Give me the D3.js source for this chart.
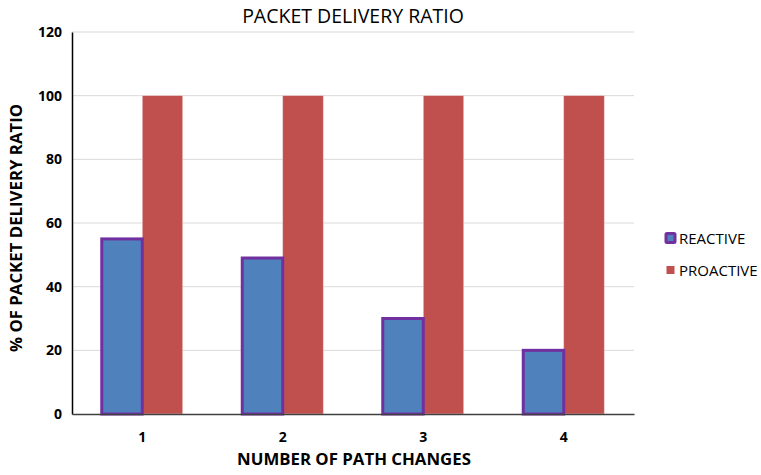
<!DOCTYPE html>
<html>
<head>
<meta charset="utf-8">
<script src="https://cdn.jsdelivr.net/npm/d3@7"></script>
<style>
  html, body { margin: 0; padding: 0; background: #fff; }
  svg { display: block; }
  text { font-family: "Open Sans", "Liberation Sans", sans-serif; }
</style>
</head>
<body>
<svg id="chart" width="761" height="475"></svg>
<script>
const categories = ["1", "2", "3", "4"];
const seriesNames = ["REACTIVE", "PROACTIVE"];
const reactive = [55, 49, 30, 20];
const proactive = [100, 100, 100, 100];
const yTicks = [0, 20, 40, 60, 80, 100, 120];

const colors = { REACTIVE: "#4F81BD", PROACTIVE: "#C0504D" };
const reactiveStroke = "#7030A0";

const svg = d3.select("#chart");
const plotLeft = 72, plotRight = 634, plotTop = 32, plotBottom = 414;

const x = d3.scaleBand().domain(categories).range([plotLeft, plotRight]).paddingInner(0.4235).paddingOuter(0.21175);
const xs = d3.scaleBand().domain(seriesNames).range([0, x.bandwidth()]);
const y = d3.scaleLinear().domain([0, 120]).range([plotBottom, plotTop]);

// gridlines
svg.append("g").selectAll("line").data(yTicks.filter(d => d > 0)).join("line")
  .attr("x1", plotLeft).attr("x2", plotRight)
  .attr("y1", d => y(d)).attr("y2", d => y(d))
  .attr("stroke", "#d9d9d9").attr("stroke-width", 1);

// y axis
const yAxis = svg.append("g").attr("transform", `translate(${plotLeft},0)`)
  .call(d3.axisLeft(y).tickValues(yTicks).tickSize(0).tickPadding(10));
yAxis.select(".domain").attr("stroke", "#000").attr("stroke-width", 1.5);
yAxis.selectAll("text").attr("font-size", 14).attr("font-weight", "bold").attr("fill", "#000");

const rows = categories.map((c, i) => ({ c, REACTIVE: reactive[i], PROACTIVE: proactive[i] }));

// proactive bars
svg.append("g").selectAll("rect").data(rows).join("rect")
  .attr("x", d => x(d.c) + xs("PROACTIVE"))
  .attr("width", xs.bandwidth())
  .attr("y", d => y(d.PROACTIVE))
  .attr("height", d => y(0) - y(d.PROACTIVE))
  .attr("fill", colors.PROACTIVE)
  .attr("stroke", "#f2d0cf").attr("stroke-width", 0.6);

// reactive bars
svg.append("g").selectAll("rect").data(rows).join("rect")
  .attr("x", d => x(d.c) + xs("REACTIVE"))
  .attr("width", xs.bandwidth())
  .attr("y", d => y(d.REACTIVE))
  .attr("height", d => y(0) - y(d.REACTIVE))
  .attr("fill", colors.REACTIVE)
  .attr("stroke", reactiveStroke).attr("stroke-width", 3);

// x axis
const xAxis = svg.append("g").attr("transform", `translate(0,${plotBottom})`)
  .call(d3.axisBottom(x).tickSize(0).tickPadding(18));
xAxis.select(".domain").attr("stroke", "#404040").attr("stroke-width", 1.5);
xAxis.selectAll("text").attr("font-size", 14).attr("font-weight", "bold").attr("fill", "#000");

// title
svg.append("text").attr("x", 353).attr("y", 23).attr("text-anchor", "middle")
  .attr("font-size", 19.5).attr("fill", "#000").text("PACKET DELIVERY RATIO");

// axis titles
svg.append("text").attr("x", 354).attr("y", 465).attr("text-anchor", "middle")
  .attr("font-size", 16.8).attr("font-weight", "bold").attr("fill", "#000").text("NUMBER OF PATH CHANGES");
svg.append("text").attr("transform", "translate(22,228) rotate(-90)").attr("text-anchor", "middle")
  .attr("font-size", 16.8).attr("font-weight", "bold").attr("fill", "#000").text("% OF PACKET DELIVERY RATIO");

// legend
const legend = svg.append("g");
const lg = legend.selectAll("g").data(seriesNames).join("g")
  .attr("transform", (d, i) => `translate(666,${238 + i * 32})`);
lg.append("rect")
  .attr("x", d => d === "REACTIVE" ? 0 : 0.5)
  .attr("y", d => d === "REACTIVE" ? -4.5 : -4)
  .attr("width", d => d === "REACTIVE" ? 9 : 8)
  .attr("height", d => d === "REACTIVE" ? 9 : 8)
  .attr("rx", d => d === "REACTIVE" ? 1 : 0)
  .attr("fill", d => colors[d])
  .attr("stroke", d => d === "REACTIVE" ? reactiveStroke : "none")
  .attr("stroke-width", 3);
lg.append("text").attr("x", 13).attr("y", 6)
  .attr("font-size", 15).attr("fill", "#000").text(d => d);
</script>
</body>
</html>
